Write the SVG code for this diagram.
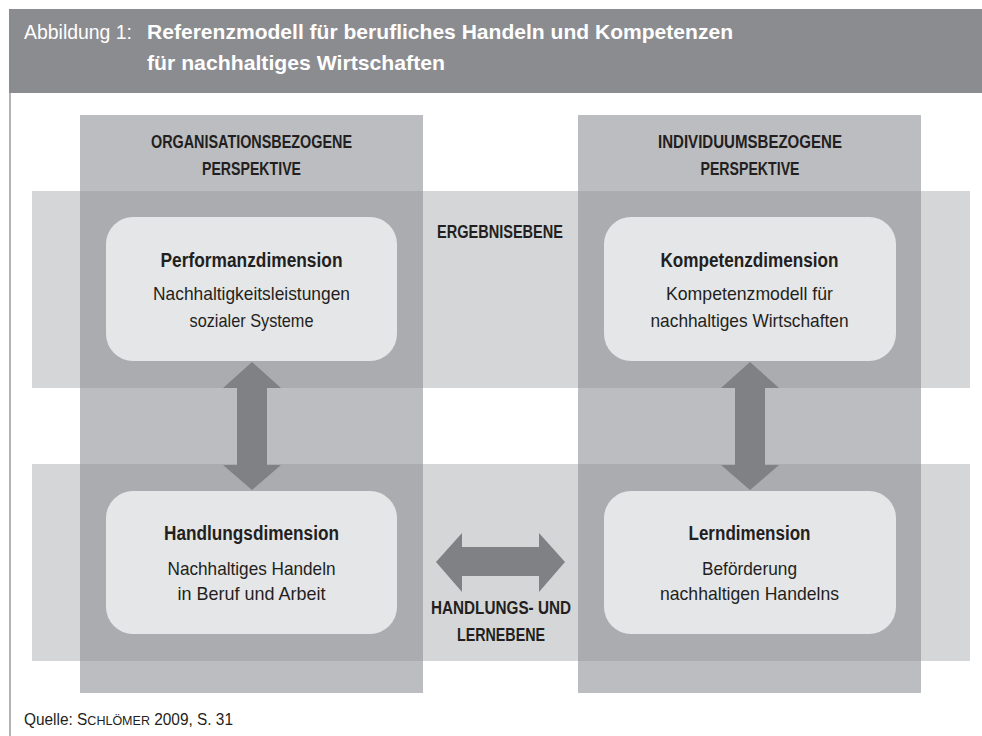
<svg xmlns="http://www.w3.org/2000/svg" width="982" height="736" viewBox="0 0 982 736">
<style>
text{font-family:"Liberation Sans",Arial,sans-serif;fill:#231f20;}
.ttl{fill:#ffffff;font-size:21px;}
.b{font-weight:bold;}
.hd{font-size:18px;font-weight:bold;text-anchor:middle;}
.nt{font-size:20px;font-weight:bold;text-anchor:middle;}
.ns{font-size:19px;text-anchor:middle;}
.box{fill:#e5e6e8;}
.arrow{fill:#808185;}
.col{fill:#bcbdc1;}
.row{fill:#d5d6d8;}
.ov{fill:#abacaf;}
</style>
<rect x="0" y="0" width="982" height="736" fill="#ffffff"/>
<g id="header">
<rect x="9" y="9" width="973" height="84" fill="#8b8c90"/>
<text class="ttl" x="24" y="39" textLength="108" lengthAdjust="spacingAndGlyphs">Abbildung 1:</text>
<text class="ttl b" x="147" y="39" textLength="586" lengthAdjust="spacingAndGlyphs">Referenzmodell für berufliches Handeln und Kompetenzen</text>
<text class="ttl b" x="147" y="70" textLength="298" lengthAdjust="spacingAndGlyphs">für nachhaltiges Wirtschaften</text>
</g>
<line x1="10" y1="93" x2="10" y2="736" stroke="#9a9b9e" stroke-width="1.5"/>
<g id="background">
<rect class="row" x="32" y="191" width="938" height="197"/>
<rect class="row" x="32" y="464" width="938" height="197"/>
<rect class="col" x="80" y="115" width="343" height="578"/>
<rect class="col" x="578" y="115" width="343" height="578"/>
<rect class="ov" x="80" y="191" width="343" height="197"/>
<rect class="ov" x="578" y="191" width="343" height="197"/>
<rect class="ov" x="80" y="464" width="343" height="197"/>
<rect class="ov" x="578" y="464" width="343" height="197"/>
</g>
<g id="col-org">
<text class="hd" x="251.5" y="148" textLength="201" lengthAdjust="spacingAndGlyphs">ORGANISATIONSBEZOGENE</text>
<text class="hd" x="251.5" y="175" textLength="99" lengthAdjust="spacingAndGlyphs">PERSPEKTIVE</text>
</g>
<g id="col-ind">
<text class="hd" x="750" y="148" textLength="184" lengthAdjust="spacingAndGlyphs">INDIVIDUUMSBEZOGENE</text>
<text class="hd" x="750" y="175" textLength="99" lengthAdjust="spacingAndGlyphs">PERSPEKTIVE</text>
</g>
<g id="row-ergebnis">
<text class="hd" x="500" y="238" textLength="126" lengthAdjust="spacingAndGlyphs">ERGEBNISEBENE</text>
</g>
<g id="row-handlung">
<text class="hd" x="501" y="614" textLength="140" lengthAdjust="spacingAndGlyphs">HANDLUNGS- UND</text>
<text class="hd" x="501" y="641" textLength="88" lengthAdjust="spacingAndGlyphs">LERNEBENE</text>
</g>
<g id="performanz">
<rect class="box" x="106" y="217" width="291" height="144" rx="27" ry="27"/>
<text class="nt" x="251.5" y="267" textLength="182" lengthAdjust="spacingAndGlyphs">Performanzdimension</text>
<text class="ns" x="251.5" y="300" textLength="197" lengthAdjust="spacingAndGlyphs">Nachhaltigkeitsleistungen</text>
<text class="ns" x="251.5" y="327" textLength="124" lengthAdjust="spacingAndGlyphs">sozialer Systeme</text>
</g>
<g id="kompetenz">
<rect class="box" x="604" y="217" width="292" height="144" rx="27" ry="27"/>
<text class="nt" x="749.5" y="267" textLength="178" lengthAdjust="spacingAndGlyphs">Kompetenzdimension</text>
<text class="ns" x="749.5" y="300" textLength="167" lengthAdjust="spacingAndGlyphs">Kompetenzmodell für</text>
<text class="ns" x="749.5" y="327" textLength="198" lengthAdjust="spacingAndGlyphs">nachhaltiges Wirtschaften</text>
</g>
<g id="handlung">
<rect class="box" x="106" y="491" width="291" height="143" rx="27" ry="27"/>
<text class="nt" x="251.5" y="540" textLength="175" lengthAdjust="spacingAndGlyphs">Handlungsdimension</text>
<text class="ns" x="251.5" y="575" textLength="168" lengthAdjust="spacingAndGlyphs">Nachhaltiges Handeln</text>
<text class="ns" x="251.5" y="600" textLength="148" lengthAdjust="spacingAndGlyphs">in Beruf und Arbeit</text>
</g>
<g id="lern">
<rect class="box" x="604" y="491" width="292" height="143" rx="27" ry="27"/>
<text class="nt" x="749.5" y="540" textLength="122" lengthAdjust="spacingAndGlyphs">Lerndimension</text>
<text class="ns" x="749.5" y="575" textLength="95" lengthAdjust="spacingAndGlyphs">Beförderung</text>
<text class="ns" x="749.5" y="600" textLength="179" lengthAdjust="spacingAndGlyphs">nachhaltigen Handelns</text>
</g>
<g id="connectors">
<polygon class="arrow" points="252,362 281,388 267,388 267,465 281,465 252,490 223,465 237,465 237,388 223,388"/>
<polygon class="arrow" points="750,362 779,388 765,388 765,465 779,465 750,490 721,465 735,465 735,388 721,388"/>
<polygon class="arrow" points="436,562 462,533 462,547 539,547 539,533 565,562 539,592 539,576 462,576 462,592"/>
</g>
<g id="source">
<text x="24" y="725" font-size="16" textLength="209" lengthAdjust="spacingAndGlyphs">Quelle: S<tspan font-size="13">CHLÖMER</tspan> 2009, S. 31</text>
</g>
</svg>
